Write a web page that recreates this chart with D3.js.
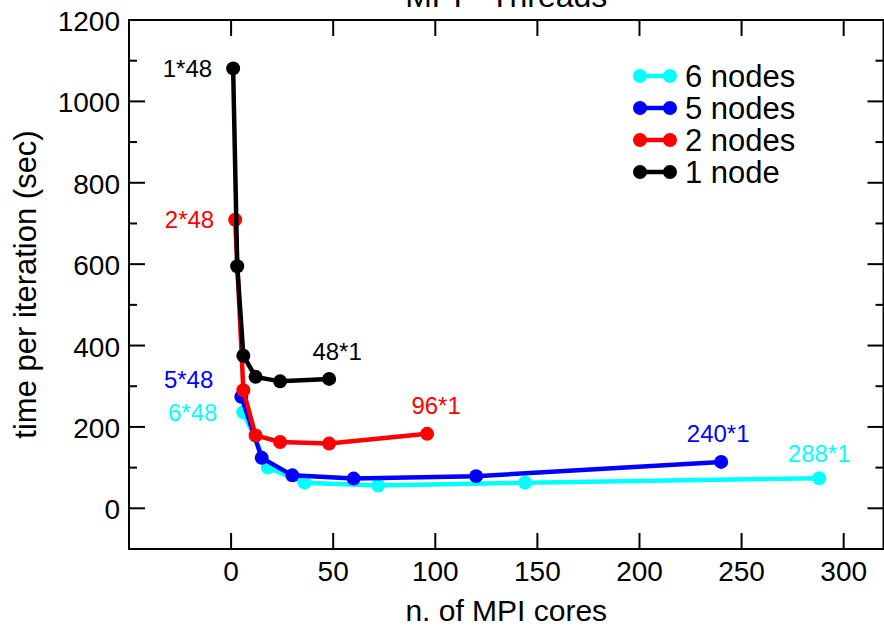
<!DOCTYPE html>
<html>
<head>
<meta charset="utf-8">
<script src="https://cdn.jsdelivr.net/npm/d3@7"></script>
<style>
  body { margin: 0; background: #fff; }
  svg { display: block; font-family: "Liberation Sans", Arial, sans-serif; }
</style>
</head>
<body>
<svg id="chart" width="884" height="632"></svg>
<script>
// data
const seriesNames = ["6 nodes", "5 nodes", "2 nodes", "1 node"];
const cores6 = [6, 18, 36, 72, 144, 288];
const time6 = [236, 100, 63, 56, 63, 74];
const cores5 = [5, 15, 30, 60, 120, 240];
const time5 = [274, 124, 81, 73, 79, 114];
const cores2 = [2, 6, 12, 24, 48, 96];
const time2 = [709, 290, 179, 163, 159, 183];
const cores1 = [1, 3, 6, 12, 24, 48];
const time1 = [1081, 595, 375, 323, 312, 318];
const firstLabels = ["6*48", "5*48", "2*48", "1*48"];
const lastLabels = ["288*1", "240*1", "96*1", "48*1"];
const xTicks = [0, 50, 100, 150, 200, 250, 300];
const yTicks = [0, 200, 400, 600, 800, 1000, 1200];

const colors = ["#00ffff", "#0000ff", "#ff0000", "#000000"];
// label offsets (px) from first / last point
const firstOff = [[-26, 0], [-28, -17], [-21, 0], [-21, 0]];
const lastOff = [[0, -25], [-3, -28], [9, -28], [8, -27]];

const series = [
  { name: seriesNames[0], x: cores6, y: time6 },
  { name: seriesNames[1], x: cores5, y: time5 },
  { name: seriesNames[2], x: cores2, y: time2 },
  { name: seriesNames[3], x: cores1, y: time1 }
].map((s, i) => ({ ...s, color: colors[i], pts: s.x.map((v, j) => [v, s.y[j]]) }));

const svg = d3.select("#chart");
const margin = { top: 20, right: 0.5, bottom: 83, left: 129 };
const width = 884, height = 632;

const x = d3.scaleLinear().domain([-50, 319.5]).range([margin.left, width - margin.right]);
const y = d3.scaleLinear().domain([-100, 1200]).range([height - margin.bottom, margin.top]);

const x0 = x.range()[0], x1 = x.range()[1], y0 = y.range()[0], y1 = y.range()[1];

// ticks (inward, mirrored)
const tk = svg.append("g").attr("stroke", "#000").attr("stroke-width", 2);
xTicks.forEach(v => {
  tk.append("line").attr("x1", x(v)).attr("x2", x(v)).attr("y1", y0).attr("y2", y0 - 16);
  tk.append("line").attr("x1", x(v)).attr("x2", x(v)).attr("y1", y1).attr("y2", y1 + 16);
});
d3.range(-100, 1201, 100).forEach(v => {
  const len = v % 200 === 0 ? 16 : 8;
  tk.append("line").attr("x1", x0).attr("x2", x0 + len).attr("y1", y(v)).attr("y2", y(v));
  tk.append("line").attr("x1", x1).attr("x2", x1 - len).attr("y1", y(v)).attr("y2", y(v));
});

svg.append("rect")
  .attr("x", x0).attr("y", y1)
  .attr("width", x1 - x0).attr("height", y0 - y1)
  .attr("fill", "none").attr("stroke", "#000").attr("stroke-width", 2);

// tick labels
svg.append("g").selectAll("text").data(xTicks).join("text")
  .attr("x", d => x(d)).attr("y", y0 + 32)
  .attr("text-anchor", "middle").attr("font-size", 28)
  .text(d => d);
svg.append("g").selectAll("text").data(yTicks).join("text")
  .attr("x", x0 - 9).attr("y", d => y(d) + 11)
  .attr("text-anchor", "end").attr("font-size", 28)
  .text(d => d);

// titles
svg.append("text").attr("x", (x0 + x1) / 2).attr("y", 7)
  .attr("text-anchor", "middle").attr("font-size", 32).text("MPI - Threads");
svg.append("text").attr("x", (x0 + x1) / 2).attr("y", 621)
  .attr("text-anchor", "middle").attr("font-size", 30).text("n. of MPI cores");
svg.append("text")
  .attr("transform", `translate(36,${(y0 + y1) / 2}) rotate(-90)`)
  .attr("text-anchor", "middle").attr("font-size", 31).text("time per iteration (sec)");

// lines and markers
const line = d3.line().x(d => x(d[0])).y(d => y(d[1]));
const g = svg.append("g");
series.forEach((s, i) => {
  g.append("path").datum(s.pts)
    .attr("d", line).attr("fill", "none")
    .attr("stroke", s.color).attr("stroke-width", 4.5);
  g.append("g").selectAll("circle").data(s.pts).join("circle")
    .attr("cx", d => x(d[0])).attr("cy", d => y(d[1]))
    .attr("r", 7).attr("fill", s.color);

  const f = s.pts[0], l = s.pts[s.pts.length - 1];
  g.append("text")
    .attr("x", x(f[0]) + firstOff[i][0]).attr("y", y(f[1]) + firstOff[i][1])
    .attr("dominant-baseline", "central").attr("text-anchor", "end")
    .attr("font-size", 24).attr("fill", s.color).text(firstLabels[i]);
  g.append("text")
    .attr("x", x(l[0]) + lastOff[i][0]).attr("y", y(l[1]) + lastOff[i][1])
    .attr("dominant-baseline", "central").attr("text-anchor", "middle")
    .attr("font-size", 24).attr("fill", s.color).text(lastLabels[i]);
});

// legend
const leg = svg.append("g").attr("transform", "translate(640,76)");
series.forEach((s, i) => {
  const row = leg.append("g").attr("transform", `translate(0,${i * 32})`);
  row.append("line").attr("x1", 0).attr("x2", 30).attr("stroke", s.color).attr("stroke-width", 4.5);
  row.append("circle").attr("cx", 0).attr("r", 7).attr("fill", s.color);
  row.append("circle").attr("cx", 30).attr("r", 7).attr("fill", s.color);
  row.append("text").attr("x", 45).attr("dominant-baseline", "central")
    .attr("font-size", 31).text(s.name);
});
</script>
</body>
</html>
